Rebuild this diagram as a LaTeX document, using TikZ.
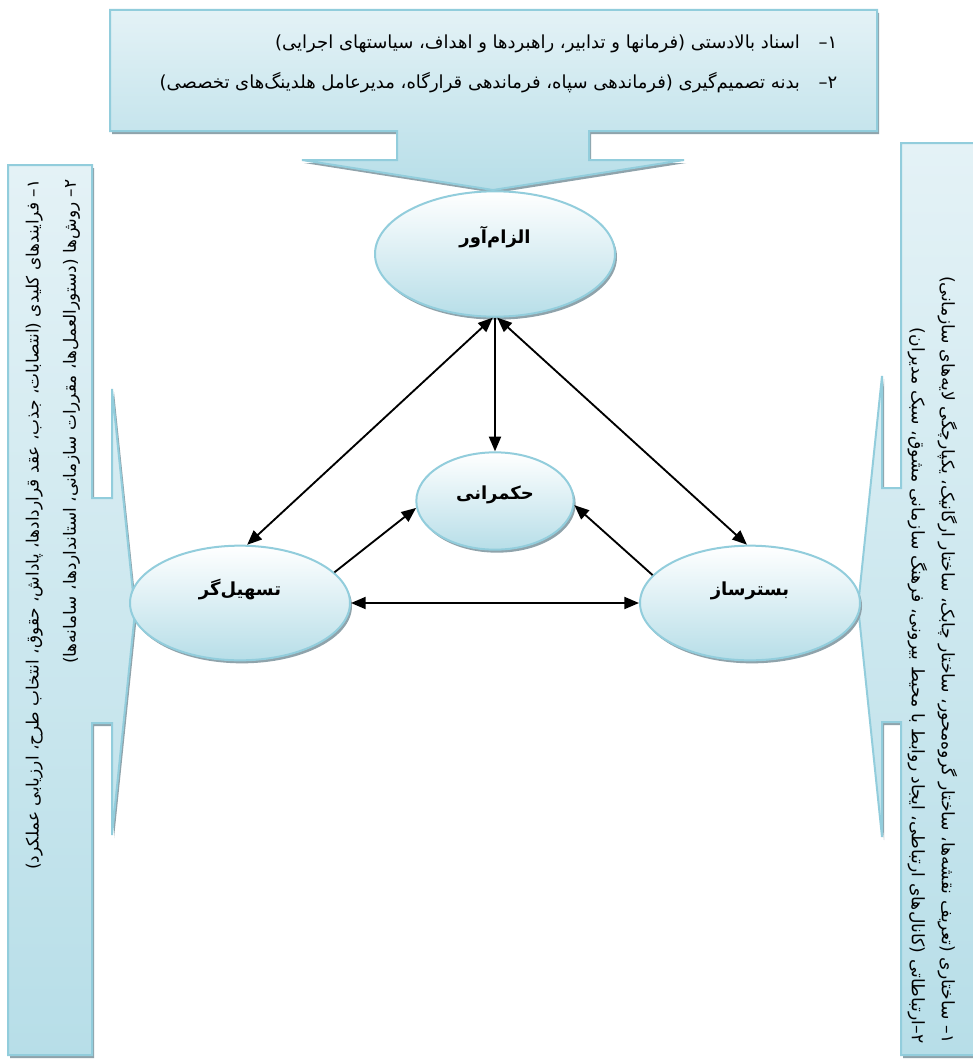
\documentclass[tikz,border=0pt]{standalone}
\usepackage{fontspec}
\usepackage{xcolor}
\usepackage{tikz}
\usetikzlibrary{shapes.geometric,arrows.meta}
\TeXXeTstate=1
\newfontfamily\farsi[Script=Arabic]{DejaVu Sans}

\definecolor{rimblue}{HTML}{92CDDC}
\definecolor{calltop}{HTML}{E4F2F6}
\definecolor{filllo}{HTML}{B7DEE8}
\definecolor{shadegray}{HTML}{8FA3AB}

\tikzset{
    shadowed/.style={preaction={fill=shadegray, transform canvas={shift={(2,3)}}}},
    callout/.style={shadowed, top color=calltop, bottom color=filllo, draw=rimblue, line width=1.5pt},
    bubble/.style={ellipse, shadowed, top color=white, bottom color=filllo, draw=rimblue,
        line width=1.5pt, inner sep=0pt, text height=4pt, font=\farsi\bfseries\fontsize{13.5}{15}\selectfont},
    link/.style={line width=1.4pt, {Triangle[length=11pt,width=9pt]}-{Triangle[length=11pt,width=9pt]}},
    onelink/.style={line width=1.4pt, -{Triangle[length=11pt,width=9pt]}}
}

\begin{document}
\begin{tikzpicture}[x=0.75pt, y=-0.75pt]
    \path[use as bounding box, clip] (0,0) rectangle (973,1063);
    \fill[white] (0,0) rectangle (973,1063);

    % Top callout
    \path[callout] (110,10) -- (877,10) -- (877,131) -- (589,131) -- (589,160) -- (684,160)
        -- (493,190) -- (302,160) -- (397,160) -- (397,131) -- (110,131) -- cycle;
    \node[anchor=north east, align=right, font=\farsi\fontsize{13.5}{30}\selectfont] (topnote) at (842,30)
        {\beginR ۱\kern0pt–\hspace{14pt}اسناد بالادستی (فرمانها و تدابیر، راهبردها و اهداف، سیاستهای اجرایی)\endR\\
         \beginR ۲\kern0pt–\hspace{14pt}بدنه تصمیم^^^^200cگیری (فرماندهی سپاه، فرماندهی قرارگاه، مدیرعامل هلدینگ^^^^200cهای تخصصی)\endR};

    % Left callout
    \path[callout] (8,165) -- (92,165) -- (92,498) -- (112,498) -- (112,389) -- (135,612)
        -- (112,835) -- (112,723) -- (92,723) -- (92,1055) -- (8,1055) -- cycle;
    \node[rotate=90, anchor=north east, align=right, font=\farsi\fontsize{12.7}{28}\selectfont] (leftnote) at (21,175)
        {\beginR ۱\kern0pt– فرایندهای کلیدی (انتصابات، جذب، عقد قراردادها، پاداش، حقوق، انتخاب طرح، ارزیابی عملکرد)\endR\\
         \beginR ۲\kern0pt– روش^^^^200cها (دستورالعمل^^^^200cها، مقررات سازمانی، استانداردها، سامانه^^^^200cها)\endR};

    % Right callout
    \path[callout] (901,143) -- (985,143) -- (985,1055) -- (901,1055) -- (901,722) -- (882,722)
        -- (882,837) -- (858,606) -- (882,376) -- (882,488) -- (901,488) -- cycle;
    \node[rotate=-90, anchor=north east, align=right, font=\farsi\fontsize{12.9}{22.5}\selectfont] (rightnote) at (962,1048)
        {\beginR ۱\kern0pt– ساختاری (تعریف نقشه^^^^200cها، ساختار گروه^^^^200cمحور، ساختار چابک، ساختار ارگانیک، یکپارچگی لایه^^^^200cهای سازمانی)\endR\\
         \beginR ۲\kern0pt–ارتباطاتی (کانال^^^^200cهای ارتباطی، ایجاد روابط با محیط بیرونی، فرهنگ سازمانی مشوق، سبک مدیران)\endR};

    % Ellipses
    \node[bubble, minimum width=180pt, minimum height=94pt, text depth=20pt] (elzam) at (495,254) {\beginR الزام^^^^200cآور\endR};
    \node[bubble, minimum width=118pt, minimum height=73pt, text depth=7pt] (hokm) at (495,501) {\beginR حکمرانی\endR};
    \node[bubble, minimum width=165pt, minimum height=86pt, text depth=16pt] (tashil) at (240,603) {\beginR تسهیل^^^^200cگر\endR};
    \node[bubble, minimum width=165pt, minimum height=86pt, text depth=16pt] (bastar) at (750,603) {\beginR بسترساز\endR};

    % Connectors
    \draw[link] (elzam.-92) -- (tashil.83);
    \draw[link] (elzam.-88) -- (bastar.93);
    \draw[onelink] (elzam.south) -- (hokm.north);
    \draw[onelink] (tashil.18) -- (hokm.185);
    \draw[onelink] (bastar.164) -- (hokm.-3);
    \draw[link] (tashil.east) -- (bastar.west);
\end{tikzpicture}
\end{document}
